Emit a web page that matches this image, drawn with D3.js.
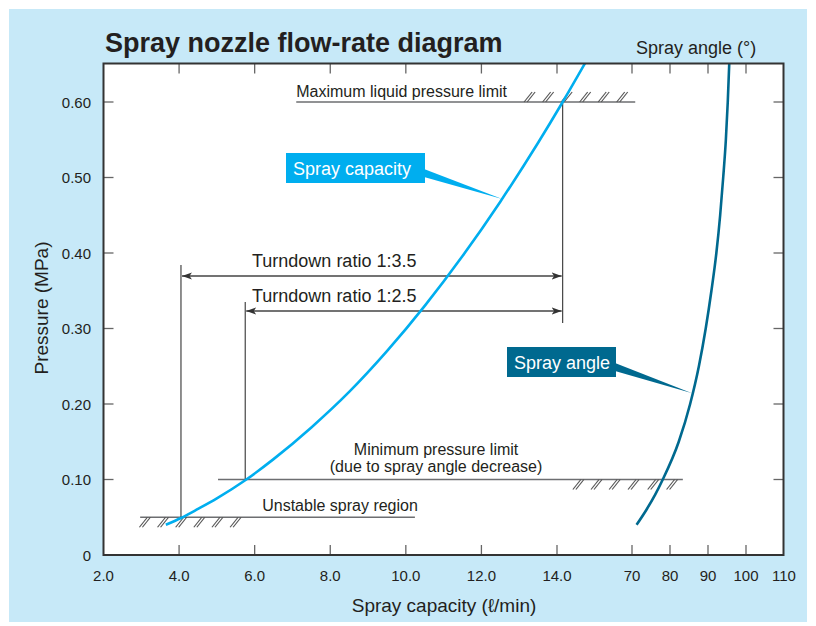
<!DOCTYPE html>
<html>
<head>
<meta charset="utf-8">
<script src="https://cdn.jsdelivr.net/npm/d3@7"></script>
<style>
  html, body { margin: 0; padding: 0; background: #ffffff; }
  svg { display: block; }
  text { font-family: "Liberation Sans", Arial, Helvetica, sans-serif; fill: #231f20; }
</style>
</head>
<body>
<svg id="chart" width="816" height="626"></svg>
<script>
// Spray capacity curve: flow (l/min) against pressure (MPa)
const capacityFlow     = [3.65, 4.05, 4.5, 5.0, 5.75, 6.5, 7.5, 8.5, 9.5, 10.5, 11.5, 12.5, 13.5, 14.15, 14.75];
const capacityPressure = [0.040, 0.049, 0.061, 0.075, 0.099, 0.127, 0.169, 0.216, 0.270, 0.330, 0.396, 0.468, 0.546, 0.600, 0.652];

// Spray angle curve: angle (degrees) against pressure (MPa)
const angleDegrees  = [71.2, 73.8, 76.1, 78.1, 82.3, 85.3, 87.6, 89.4, 90.9, 92.2, 93.2, 94.0, 94.7, 95.2, 95.6];
const anglePressure = [0.040, 0.060, 0.080, 0.100, 0.150, 0.200, 0.250, 0.300, 0.350, 0.400, 0.450, 0.500, 0.550, 0.600, 0.652];

// Axis ticks
const flowTicks      = [2, 4, 6, 8, 10, 12, 14];
const flowTickLabels = ["2.0", "4.0", "6.0", "8.0", "10.0", "12.0", "14.0"];
const angleTicks      = [70, 80, 90, 100, 110];
const angleTickLabels = ["70", "80", "90", "100", "110"];
const pressureTicks      = [0, 0.1, 0.2, 0.3, 0.4, 0.5, 0.6];
const pressureTickLabels = ["0", "0.10", "0.20", "0.30", "0.40", "0.50", "0.60"];

// Operating limits (MPa) and turndown range (l/min)
const maxPressure = 0.60;
const minPressure = 0.10;
const unstablePressure = 0.05;
const turndownMaxFlow = 14.15;
const turndownMinFlows = [4.05, 5.75];
const turndownLabels = ["Turndown ratio 1:3.5", "Turndown ratio 1:2.5"];

const svg = d3.select("#chart");
const W = 816, H = 626;

const x = d3.scaleLinear().domain([2, 14]).range([103.5, 557]);
const xa = d3.scaleLinear().domain([70, 110]).range([632, 784]);
const y = d3.scaleLinear().domain([0, 0.6]).range([555, 102]);

const plotLeft = x(2), plotRight = 783.5, plotTop = 63.5, plotBottom = y(0);

// panel background
svg.append("rect").attr("x", 9).attr("y", 9).attr("width", W - 18).attr("height", H - 13)
  .attr("fill", "#c7e9f8");

// plot area
svg.append("rect").attr("x", plotLeft).attr("y", plotTop)
  .attr("width", plotRight - plotLeft).attr("height", plotBottom - plotTop)
  .attr("fill", "#ffffff");

const defs = svg.append("defs");
defs.append("clipPath").attr("id", "plotClip").append("rect")
  .attr("x", plotLeft).attr("y", plotTop).attr("width", plotRight - plotLeft).attr("height", plotBottom - plotTop);
defs.append("marker").attr("id", "arrowHead")
  .attr("viewBox", "0 0 10 10").attr("refX", 10).attr("refY", 5)
  .attr("markerWidth", 10).attr("markerHeight", 10).attr("markerUnits", "userSpaceOnUse")
  .attr("orient", "auto-start-reverse")
  .append("path").attr("d", "M0,1.5 L10,5 L0,8.5 L2.5,5 Z").attr("fill", "#333");

// inward ticks on all four sides
const tickLen = 10;
const tickG = svg.append("g").attr("stroke", "#666").attr("stroke-width", 1.3);
const innerFlow = flowTicks.filter(v => v !== 2);
const innerAngle = angleTicks.filter(v => v !== 110);
[plotBottom, plotTop].forEach((edge, i) => {
  const dir = i === 0 ? -1 : 1;
  innerFlow.forEach(v => tickG.append("line").attr("x1", x(v)).attr("x2", x(v))
    .attr("y1", edge).attr("y2", edge + dir * tickLen));
  innerAngle.forEach(v => tickG.append("line").attr("x1", xa(v)).attr("x2", xa(v))
    .attr("y1", edge).attr("y2", edge + dir * tickLen));
});
pressureTicks.filter(v => v > 0).forEach(v => {
  tickG.append("line").attr("x1", plotLeft).attr("x2", plotLeft + tickLen).attr("y1", y(v)).attr("y2", y(v));
  tickG.append("line").attr("x1", plotRight).attr("x2", plotRight - tickLen).attr("y1", y(v)).attr("y2", y(v));
});

// tick labels
const tickFont = 15;
flowTicks.forEach((v, i) => svg.append("text").attr("x", x(v)).attr("y", 581)
  .attr("text-anchor", "middle").attr("font-size", tickFont).text(flowTickLabels[i]));
angleTicks.forEach((v, i) => svg.append("text").attr("x", xa(v)).attr("y", 581)
  .attr("text-anchor", "middle").attr("font-size", tickFont).text(angleTickLabels[i]));
pressureTicks.forEach((v, i) => svg.append("text").attr("x", 91).attr("y", y(v) + 5.5)
  .attr("text-anchor", "end").attr("font-size", tickFont).text(pressureTickLabels[i]));

// axis titles and heading
svg.append("text").attr("x", 444).attr("y", 612).attr("text-anchor", "middle")
  .attr("font-size", 19).text("Spray capacity (ℓ/min)");
svg.append("text").attr("transform", "translate(48,308) rotate(-90)").attr("text-anchor", "middle")
  .attr("font-size", 19).text("Pressure (MPa)");
svg.append("text").attr("x", 105).attr("y", 52).attr("font-size", 27).attr("font-weight", "bold")
  .text("Spray nozzle flow-rate diagram");
svg.append("text").attr("x", 636).attr("y", 54).attr("font-size", 18).text("Spray angle (°)");

// hatched limit lines
const ann = svg.append("g");
function hatchLine(x1, x2, yv, hatchStarts, above) {
  const yy = y(yv);
  ann.append("line").attr("x1", x(x1)).attr("x2", x(x2)).attr("y1", yy).attr("y2", yy)
    .attr("stroke", "#6d6e71").attr("stroke-width", 1.5);
  hatchStarts.forEach(h => {
    const hx = x(h);
    const y0 = above ? yy : yy + 10;
    [0, 3].forEach(o => ann.append("line")
      .attr("x1", hx + o).attr("y1", y0).attr("x2", hx + o + 8).attr("y2", y0 - 10)
      .attr("stroke", "#555").attr("stroke-width", 1.2));
  });
}
hatchLine(7.1, 16.07, maxPressure, [13.13, 13.62, 14.11, 14.6, 15.09, 15.58], true);
hatchLine(5.03, 17.33, minPressure, [14.42, 14.9, 15.38, 15.88, 16.4, 16.9], false);
hatchLine(2.97, 10.24, unstablePressure, [2.95, 3.43, 3.91, 4.39, 4.87, 5.35], false);

ann.append("text").attr("x", x(7.1)).attr("y", 97).attr("font-size", 16).text("Maximum liquid pressure limit");
ann.append("text").attr("x", x(10.8)).attr("y", 455).attr("text-anchor", "middle").attr("font-size", 16)
  .text("Minimum pressure limit");
ann.append("text").attr("x", x(10.8)).attr("y", 472).attr("text-anchor", "middle").attr("font-size", 16)
  .text("(due to spray angle decrease)");
ann.append("text").attr("x", x(6.2)).attr("y", 511).attr("font-size", 16).text("Unstable spray region");

// turndown verticals and arrows
const lineCol = "#333";
ann.append("line").attr("x1", x(turndownMaxFlow)).attr("x2", x(turndownMaxFlow))
  .attr("y1", y(maxPressure)).attr("y2", 323).attr("stroke", lineCol).attr("stroke-width", 1.1);
ann.append("line").attr("x1", x(turndownMinFlows[0])).attr("x2", x(turndownMinFlows[0]))
  .attr("y1", y(unstablePressure)).attr("y2", 265).attr("stroke", lineCol).attr("stroke-width", 1.1);
ann.append("line").attr("x1", x(turndownMinFlows[1])).attr("x2", x(turndownMinFlows[1]))
  .attr("y1", y(minPressure)).attr("y2", 302).attr("stroke", lineCol).attr("stroke-width", 1.1);
[276, 311].forEach((ay, i) => {
  ann.append("line").attr("x1", x(turndownMinFlows[i]) + 1).attr("x2", x(turndownMaxFlow) - 1)
    .attr("y1", ay).attr("y2", ay).attr("stroke", "#444").attr("stroke-width", 1.3)
    .attr("marker-start", "url(#arrowHead)").attr("marker-end", "url(#arrowHead)");
  ann.append("text").attr("x", 252).attr("y", ay - 9).attr("font-size", 18).text(turndownLabels[i]);
});

// curves
const plot = svg.append("g").attr("clip-path", "url(#plotClip)");
const capLine = d3.line().x(d => x(d[0])).y(d => y(d[1])).curve(d3.curveMonotoneX);
const angLine = d3.line().x(d => xa(d[0])).y(d => y(d[1])).curve(d3.curveMonotoneX);
plot.append("path").datum(d3.zip(capacityFlow, capacityPressure)).attr("d", capLine)
  .attr("fill", "none").attr("stroke", "#00aeef").attr("stroke-width", 2.6);
plot.append("path").datum(d3.zip(angleDegrees, anglePressure)).attr("d", angLine)
  .attr("fill", "none").attr("stroke", "#00698f").attr("stroke-width", 2.6);

// plot frame
svg.append("rect").attr("x", plotLeft).attr("y", plotTop)
  .attr("width", plotRight - plotLeft).attr("height", plotBottom - plotTop)
  .attr("fill", "none").attr("stroke", "#333").attr("stroke-width", 2);

// callouts
function callout(tipX, tipY, bx, by, bw, bh, label, color) {
  svg.append("path")
    .attr("d", `M${bx + bw - 1},${tipY - 30} L${tipX},${tipY} L${bx + bw - 1},${tipY - 22} Z`)
    .attr("fill", color);
  svg.append("rect").attr("x", bx).attr("y", by).attr("width", bw).attr("height", bh).attr("fill", color);
  svg.append("text").attr("x", bx + 7).attr("y", by + bh / 2 + 6.5).attr("font-size", 18)
    .style("fill", "#ffffff").text(label);
}
callout(x(12.55), y(0.4715), 286, 153, 139, 30, "Spray capacity", "#00aeef");
callout(xa(85.65), y(0.2146), 507, 347, 109, 30, "Spray angle", "#00698f");
</script>
</body>
</html>
